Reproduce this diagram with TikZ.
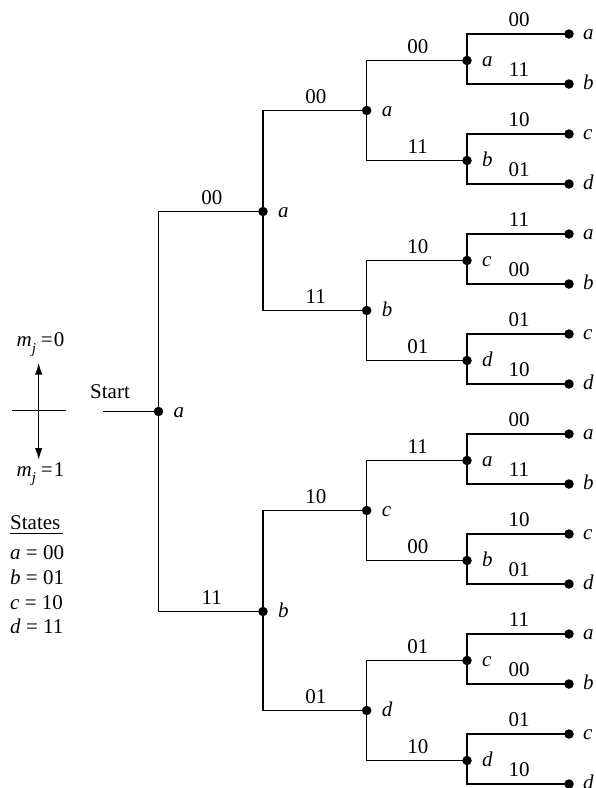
\documentclass[tikz,border=0pt]{standalone}
\usepackage{fontspec}
\setmainfont{Liberation Serif}
\usetikzlibrary{arrows.meta}
\begin{document}
\begin{tikzpicture}[x=1pt,y=-1pt,font=\fontsize{21}{25}\selectfont,
  dot/.style={circle,fill=black,inner sep=0pt,minimum size=9.5pt},
  st/.style={font=\fontsize{21}{25}\selectfont\itshape,anchor=base west,inner sep=0pt},
  bl/.style={anchor=base,inner sep=0pt,yshift=7.5pt,xshift=1pt},
  wire/.style={line width=1.5pt},
  txt/.style={anchor=base,inner sep=0pt}]
\useasboundingbox (0,0) rectangle (596,788);

% root and start
\node[dot] (r) at (158.5,411.5) {};
\node[st] (rl) at ([xshift=15pt,yshift=-6pt]r.center) {a};
\coordinate (s) at (103,411.5);
\draw[wire] (s) -- (r.center);
\node[txt] (startl) at (110,398.5) {Start};

% level 1
\foreach \h/\s/\b in {0/a/00,1/b/11}{
  \node[dot] (L1-\h) at (263,211.5+400*\h) {};
  \node[st] (L1l-\h) at ([xshift=15pt,yshift=-6pt]L1-\h.center) {\s};
  \draw[wire] (r.center) |- (L1-\h.center) node[bl,pos=0.75] (L1b-\h) {\b};
}
% level 2
\foreach \i/\p/\s/\b in {0/0/a/00,1/0/b/11,2/1/c/10,3/1/d/01}{
  \node[dot] (L2-\i) at (366.7,110.5+200*\i) {};
  \node[st] (L2l-\i) at ([xshift=15pt,yshift=-6pt]L2-\i.center) {\s};
  \draw[wire] (L1-\p.center) |- (L2-\i.center) node[bl,pos=0.75] (L2b-\i) {\b};
}
% level 3
\foreach \j/\p/\s/\b in {0/0/a/00,1/0/b/11,2/1/c/10,3/1/d/01,4/2/a/11,5/2/b/00,6/3/c/01,7/3/d/10}{
  \node[dot] (L3-\j) at (467,60.5+100*\j) {};
  \node[st] (L3l-\j) at ([xshift=15pt,yshift=-6pt]L3-\j.center) {\s};
  \draw[wire] (L2-\p.center) |- (L3-\j.center) node[bl,pos=0.75] (L3b-\j) {\b};
}
% leaves
\foreach \k/\p/\s/\b in {0/0/a/00,1/0/b/11,2/1/c/10,3/1/d/01,4/2/a/11,5/2/b/00,6/3/c/01,7/3/d/10,
  8/4/a/00,9/4/b/11,10/5/c/10,11/5/d/01,12/6/a/11,13/6/b/00,14/7/c/01,15/7/d/10}{
  \node[dot] (L4-\k) at (569,34+50*\k) {};
  \node[st] (L4l-\k) at ([xshift=14pt,yshift=-5.5pt]L4-\k.center) {\s};
  \draw[wire] (L3-\p.center) |- (L4-\k.center) node[bl,pos=0.75] (L4b-\k) {\b};
}

% legend arrows
\coordinate (hc) at (38.7,410.7);
\coordinate (ht) at (38.7,362.7);
\coordinate (hb) at (38.7,460);
\coordinate (hl) at (11.7,410.7);
\coordinate (hr) at (65.7,410.7);
\draw[wire] (hl) -- (hr);
\draw[wire,-{Latex[length=12pt,width=7.5pt]}] (hc) -- (ht);
\draw[wire,-{Latex[length=12pt,width=7.5pt]}] (hc) -- (hb);
\node[txt] (m0) at (40.5,346.7) {\textit{m}\raisebox{-0.3em}{\fontsize{15}{15}\selectfont\textit{j}}\hspace{5pt}=\hspace{1pt}0};
\node[txt] (m1) at (40.5,476) {\textit{m}\raisebox{-0.3em}{\fontsize{15}{15}\selectfont\textit{j}}\hspace{5pt}=\hspace{1pt}1};

% states
\node[anchor=base west,inner sep=0pt] (states) at (10,529.3) {States};
\coordinate (ul) at (10,533.5);
\coordinate (ur) at (63,533.5);
\draw[line width=1pt] (ul) -- (ur);
\node[anchor=base west,inner sep=0pt] (sa) at (10,559) {\textit{a} = 00};
\node[anchor=base west,inner sep=0pt] (sb) at (10,584) {\textit{b} = 01};
\node[anchor=base west,inner sep=0pt] (sc) at (10,609) {\textit{c} = 10};
\node[anchor=base west,inner sep=0pt] (sd) at (10,633) {\textit{d} = 11};
\end{tikzpicture}
\end{document}
